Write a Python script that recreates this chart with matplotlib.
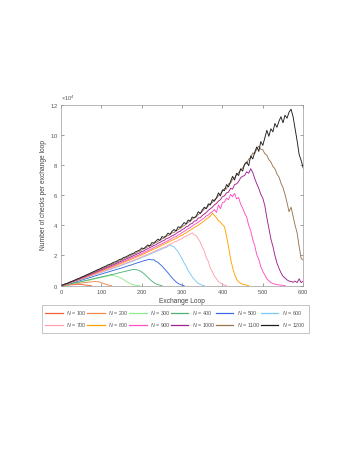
import numpy as np
import matplotlib
matplotlib.use('Agg')
import matplotlib.pyplot as plt
from matplotlib.lines import Line2D

# exchange loop grid (step 5); values below are in units of 1e4 checks
loop_step = 5

n_labels = [100, 200, 300, 400, 500, 600, 700, 800, 900, 1000, 1100, 1200]

checks_100 = [0, 0.01, 0.02, 0.03, 0.04, 0.05, 0.06, 0.07, 0.08, 0.09,
              0.08, 0.06, 0.04, 0.02, 0.01, 0]

checks_200 = [0, 0.01, 0.03, 0.04, 0.06, 0.08, 0.1, 0.11, 0.13, 0.15,
              0.17, 0.19, 0.2, 0.22, 0.24, 0.25, 0.26, 0.27, 0.26, 0.24,
              0.2, 0.15, 0.09, 0.05, 0.02, 0]

checks_300 = [0, 0.02, 0.05, 0.07, 0.09, 0.12, 0.15, 0.17, 0.2, 0.22,
              0.25, 0.28, 0.31, 0.34, 0.36, 0.39, 0.42, 0.45, 0.48, 0.51,
              0.54, 0.57, 0.6, 0.63, 0.65, 0.68, 0.67, 0.64, 0.6, 0.55,
              0.48, 0.4, 0.31, 0.22, 0.15, 0.09, 0.05, 0.03, 0.01, 0]

checks_400 = [0, 0.03, 0.05, 0.08, 0.1, 0.13, 0.16, 0.19, 0.21, 0.24,
              0.27, 0.3, 0.33, 0.36, 0.39, 0.42, 0.46, 0.49, 0.52, 0.55,
              0.58, 0.61, 0.64, 0.67, 0.7, 0.73, 0.76, 0.79, 0.82, 0.86,
              0.89, 0.92, 0.95, 0.99, 1.02, 1.05, 1.08, 1.06, 1.04, 0.98,
              0.9, 0.8, 0.68, 0.55, 0.42, 0.3, 0.2, 0.12, 0.07, 0.03, 0]

checks_500 = [0, 0.03, 0.07, 0.1, 0.13, 0.17, 0.21, 0.24, 0.28, 0.32,
              0.36, 0.4, 0.44, 0.48, 0.52, 0.56, 0.61, 0.65, 0.69, 0.73,
              0.77, 0.81, 0.85, 0.89, 0.93, 0.97, 1.01, 1.05, 1.09, 1.13,
              1.17, 1.21, 1.26, 1.3, 1.34, 1.38, 1.43, 1.47, 1.52, 1.56,
              1.6, 1.65, 1.68, 1.72, 1.75, 1.7, 1.72, 1.6, 1.55, 1.42,
              1.3, 1.15, 1.0, 0.85, 0.68, 0.52, 0.38, 0.25, 0.15, 0.08,
              0.03, 0]

checks_600 = [0, 0.04, 0.08, 0.11, 0.15, 0.2, 0.24, 0.28, 0.33, 0.37,
              0.42, 0.46, 0.51, 0.55, 0.6, 0.65, 0.7, 0.74, 0.79, 0.84,
              0.88, 0.93, 0.97, 1.02, 1.06, 1.11, 1.16, 1.2, 1.25, 1.3,
              1.35, 1.4, 1.45, 1.5, 1.55, 1.6, 1.65, 1.7, 1.75, 1.8,
              1.86, 1.91, 1.97, 2.02, 2.09, 2.14, 2.2, 2.25, 2.32, 2.37,
              2.43, 2.5, 2.52, 2.62, 2.7, 2.63, 2.58, 2.4, 2.25, 2.0,
              1.78, 1.5, 1.28, 1.0, 0.8, 0.58, 0.42, 0.26, 0.15, 0.08,
              0.03, 0]

checks_700 = [0, 0.04, 0.08, 0.12, 0.16, 0.2, 0.25, 0.29, 0.34, 0.38,
              0.43, 0.48, 0.52, 0.57, 0.62, 0.66, 0.72, 0.76, 0.81, 0.86,
              0.9, 0.95, 1.0, 1.05, 1.09, 1.14, 1.19, 1.23, 1.29, 1.33,
              1.39, 1.44, 1.49, 1.54, 1.59, 1.64, 1.69, 1.74, 1.79, 1.85,
              1.91, 1.97, 2.03, 2.08, 2.15, 2.2, 2.26, 2.32, 2.38, 2.43,
              2.5, 2.55, 2.61, 2.68, 2.74, 2.8, 2.88, 2.92, 3.0, 3.06,
              3.12, 3.22, 3.28, 3.36, 3.42, 3.5, 3.38, 3.3, 3.1, 2.88,
              2.55, 2.3, 1.85, 1.6, 1.15, 0.92, 0.62, 0.46, 0.28, 0.18,
              0.1, 0.05, 0]

checks_800 = [0, 0.04, 0.08, 0.13, 0.17, 0.22, 0.27, 0.31, 0.36, 0.41,
              0.46, 0.51, 0.56, 0.61, 0.66, 0.71, 0.77, 0.82, 0.87, 0.92,
              0.97, 1.02, 1.07, 1.12, 1.17, 1.22, 1.27, 1.32, 1.38, 1.43,
              1.49, 1.54, 1.6, 1.65, 1.71, 1.76, 1.82, 1.87, 1.93, 1.98,
              2.05, 2.1, 2.17, 2.23, 2.3, 2.36, 2.42, 2.48, 2.55, 2.6,
              2.68, 2.74, 2.8, 2.87, 2.94, 3.0, 3.06, 3.13, 3.2, 3.28,
              3.35, 3.43, 3.5, 3.6, 3.68, 3.75, 3.85, 3.92, 4.0, 4.1,
              4.2, 4.3, 4.42, 4.5, 4.62, 4.8, 4.65, 4.5, 4.3, 4.22,
              4.05, 3.9, 3.3, 2.6, 1.8, 1.2, 0.75, 0.42, 0.25, 0.15,
              0.1, 0.06, 0.03, 0]

checks_900 = [0, 0.04, 0.09, 0.13, 0.17, 0.23, 0.28, 0.32, 0.37, 0.43,
              0.48, 0.53, 0.58, 0.64, 0.69, 0.74, 0.8, 0.85, 0.9, 0.96,
              1.01, 1.06, 1.11, 1.17, 1.22, 1.27, 1.32, 1.38, 1.44, 1.49,
              1.55, 1.6, 1.66, 1.71, 1.78, 1.83, 1.89, 1.94, 2.0, 2.06,
              2.13, 2.19, 2.26, 2.32, 2.39, 2.45, 2.52, 2.58, 2.65, 2.71,
              2.78, 2.85, 2.92, 2.98, 3.06, 3.12, 3.22, 3.25, 3.36, 3.42,
              3.52, 3.6, 3.68, 3.78, 3.85, 3.95, 4.05, 4.12, 4.22, 4.3,
              4.4, 4.5, 4.62, 4.68, 4.82, 4.9, 5.05, 4.85, 5.35, 5.1,
              5.5, 5.55, 5.8, 5.7, 6.05, 5.9, 6.12, 5.75, 5.85, 5.4,
              5.15, 4.8, 4.55, 4.0, 3.65, 3.05, 2.65, 2.05, 1.75, 1.25,
              0.95, 0.7, 0.45, 0.32, 0.2, 0.14, 0.1, 0.07, 0.05, 0.03,
              0.02, 0]

checks_1000 = [0, 0.05, 0.09, 0.14, 0.18, 0.24, 0.29, 0.34, 0.39, 0.45,
               0.5, 0.56, 0.61, 0.67, 0.72, 0.78, 0.84, 0.9, 0.95, 1.01,
               1.06, 1.12, 1.17, 1.23, 1.28, 1.34, 1.39, 1.45, 1.51, 1.57,
               1.63, 1.69, 1.75, 1.81, 1.87, 1.93, 1.99, 2.05, 2.11, 2.17,
               2.25, 2.3, 2.4, 2.44, 2.53, 2.58, 2.66, 2.71, 2.8, 2.86,
               2.95, 2.99, 3.1, 3.14, 3.22, 3.3, 3.36, 3.45, 3.55, 3.6,
               3.72, 3.78, 3.9, 3.95, 4.08, 4.12, 4.28, 4.3, 4.48, 4.5,
               4.65, 4.75, 4.85, 5.0, 5.1, 5.2, 5.35, 5.45, 5.6, 5.7,
               5.9, 5.95, 6.15, 6.2, 6.45, 6.4, 6.7, 6.75, 6.9, 7.15,
               7.25, 7.3, 7.55, 7.45, 7.75, 7.5, 7.1, 6.75, 6.45, 6.05,
               5.8, 5.3, 4.5, 3.8, 3.1, 2.6, 2.0, 1.5, 1.15, 0.85,
               0.62, 0.5, 0.38, 0.3, 0.28, 0.22, 0.3, 0.2, 0.45, 0.2,
               0.3]

checks_1100 = [0, 0.05, 0.1, 0.14, 0.2, 0.25, 0.3, 0.36, 0.41, 0.47,
               0.53, 0.58, 0.65, 0.7, 0.76, 0.82, 0.88, 0.94, 1.0, 1.05,
               1.12, 1.16, 1.24, 1.28, 1.35, 1.4, 1.47, 1.5, 1.6, 1.63,
               1.72, 1.76, 1.85, 1.88, 1.97, 2.02, 2.1, 2.13, 2.23, 2.26,
               2.37, 2.45, 2.5, 2.58, 2.66, 2.68, 2.8, 2.86, 2.93, 3.02,
               3.1, 3.15, 3.25, 3.32, 3.38, 3.5, 3.52, 3.66, 3.7, 3.8,
               3.9, 3.98, 4.08, 4.2, 4.26, 4.4, 4.5, 4.55, 4.72, 4.8,
               4.92, 5.08, 5.15, 5.28, 5.45, 5.5, 5.7, 5.78, 5.95, 6.1,
               6.25, 6.45, 6.4, 6.75, 6.8, 7.05, 7.15, 7.35, 7.5, 7.65,
               7.8, 8.05, 8.1, 8.4, 8.45, 8.8, 8.75, 9.05, 9.25, 9.05,
               9.0, 8.75, 8.65, 8.35, 8.2, 7.9, 7.75, 7.4, 7.2, 6.8,
               6.5, 6.05, 5.5, 4.9, 5.2, 4.6, 4.0, 3.5, 2.6, 1.8,
               1.7]

checks_1200 = [0, 0.05, 0.11, 0.15, 0.21, 0.27, 0.32, 0.38, 0.44, 0.49,
               0.56, 0.61, 0.67, 0.74, 0.79, 0.86, 0.92, 0.98, 1.05, 1.1,
               1.17, 1.23, 1.28, 1.36, 1.41, 1.46, 1.55, 1.58, 1.65, 1.73,
               1.77, 1.86, 1.9, 1.97, 2.05, 2.1, 2.15, 2.25, 2.3, 2.36,
               2.5, 2.45, 2.58, 2.7, 2.62, 2.85, 2.82, 2.95, 3.08, 3.0,
               3.25, 3.2, 3.3, 3.48, 3.4, 3.6, 3.72, 3.62, 3.9, 3.85,
               4.0, 4.18, 4.1, 4.35, 4.28, 4.55, 4.5, 4.62, 4.9, 4.78,
               5.02, 5.2, 5.1, 5.42, 5.35, 5.7, 5.6, 5.82, 6.15, 5.95,
               6.35, 6.3, 6.7, 6.55, 6.9, 7.25, 7.0, 7.45, 7.3, 7.75,
               7.6, 8.05, 8.2, 7.95, 8.6, 8.4, 8.85, 9.2, 8.9, 9.55,
               9.3, 9.8, 10.3, 9.9, 10.4, 10.2, 10.75, 10.5, 10.9, 11.2,
               10.8, 11.3, 11.1, 11.5, 11.7, 11.2, 10.4, 9.6, 8.7, 8.3,
               7.8]

all_checks = [checks_100, checks_200, checks_300, checks_400, checks_500, checks_600,
              checks_700, checks_800, checks_900, checks_1000, checks_1100, checks_1200]

line_colors = ['#f0603c', '#f08a4b', '#8fea8f', '#4fb378', '#3a6ae0', '#7cc8f5',
               '#ffa0b0', '#ffa200', '#ff50c0', '#a0208f', '#9a7552', '#1e1e1e']

plt.rcParams['font.family'] = ['Liberation Sans', 'DejaVu Sans']
plt.rcParams['mathtext.fontset'] = 'custom'
plt.rcParams['mathtext.rm'] = 'Liberation Sans'
plt.rcParams['mathtext.it'] = 'Liberation Sans:italic'
plt.rcParams['axes.formatter.use_mathtext'] = True

fig = plt.figure(figsize=(3.55, 4.57), dpi=100)
ax = fig.add_axes([0.172, 0.375, 0.682, 0.396])

for n, ys, col in zip(n_labels, all_checks, line_colors):
    xs = np.arange(len(ys)) * loop_step
    ax.plot(xs, np.array(ys) * 1e4, color=col, lw=0.65)

ax.set_xlim(0, 600)
ax.set_ylim(0, 12e4)
ax.set_xticks(np.arange(0, 601, 100))
ax.set_yticks(np.arange(0, 12.1e4, 2e4))
ax.ticklabel_format(axis='y', style='sci', scilimits=(4, 4))
ax.yaxis.get_offset_text().set_fontsize(4)
ax.yaxis.get_offset_text().set_color('#555555')

ax.tick_params(direction='in', length=2.2, width=0.4, labelsize=4.2,
               colors='#555555', top=True, right=True, pad=2)
for sp in ax.spines.values():
    sp.set_color('#9a9a9a')
    sp.set_linewidth(0.5)

ax.set_xlabel('Exchange Loop', fontsize=4.8, color='#444444', labelpad=1)
ax.set_ylabel('Number of checks per exchange loop', fontsize=4.8, color='#444444', labelpad=2)

# legend fills column by column, so interleave to get rows 100..600 / 700..1200
order = [i + 6 * r for i in range(6) for r in range(2)]
leg_handles = [Line2D([0, 1], [0, 0], color=line_colors[i], lw=0.9) for i in order]
leg_labels = [f'$N$ = {n_labels[i]}' for i in order]
leg = fig.legend(handles=leg_handles, labels=leg_labels,
                 loc='lower left', bbox_to_anchor=(0.117, 0.271, 0.754, 0.062),
                 mode='expand', ncol=6, fontsize=3.9, handlelength=3.2,
                 handletextpad=0.6, borderaxespad=0, fancybox=False,
                 frameon=True, edgecolor='#9a9a9a', labelspacing=0.8,
                 borderpad=0.7)
leg.get_frame().set_linewidth(0.5)
for t in leg.get_texts():
    t.set_color('#555555')
for ln, i in zip(leg.get_lines(), order):
    ln.set_color(line_colors[i])
    ln.set_linewidth(0.9)

fig.savefig('out.png', dpi=100)
